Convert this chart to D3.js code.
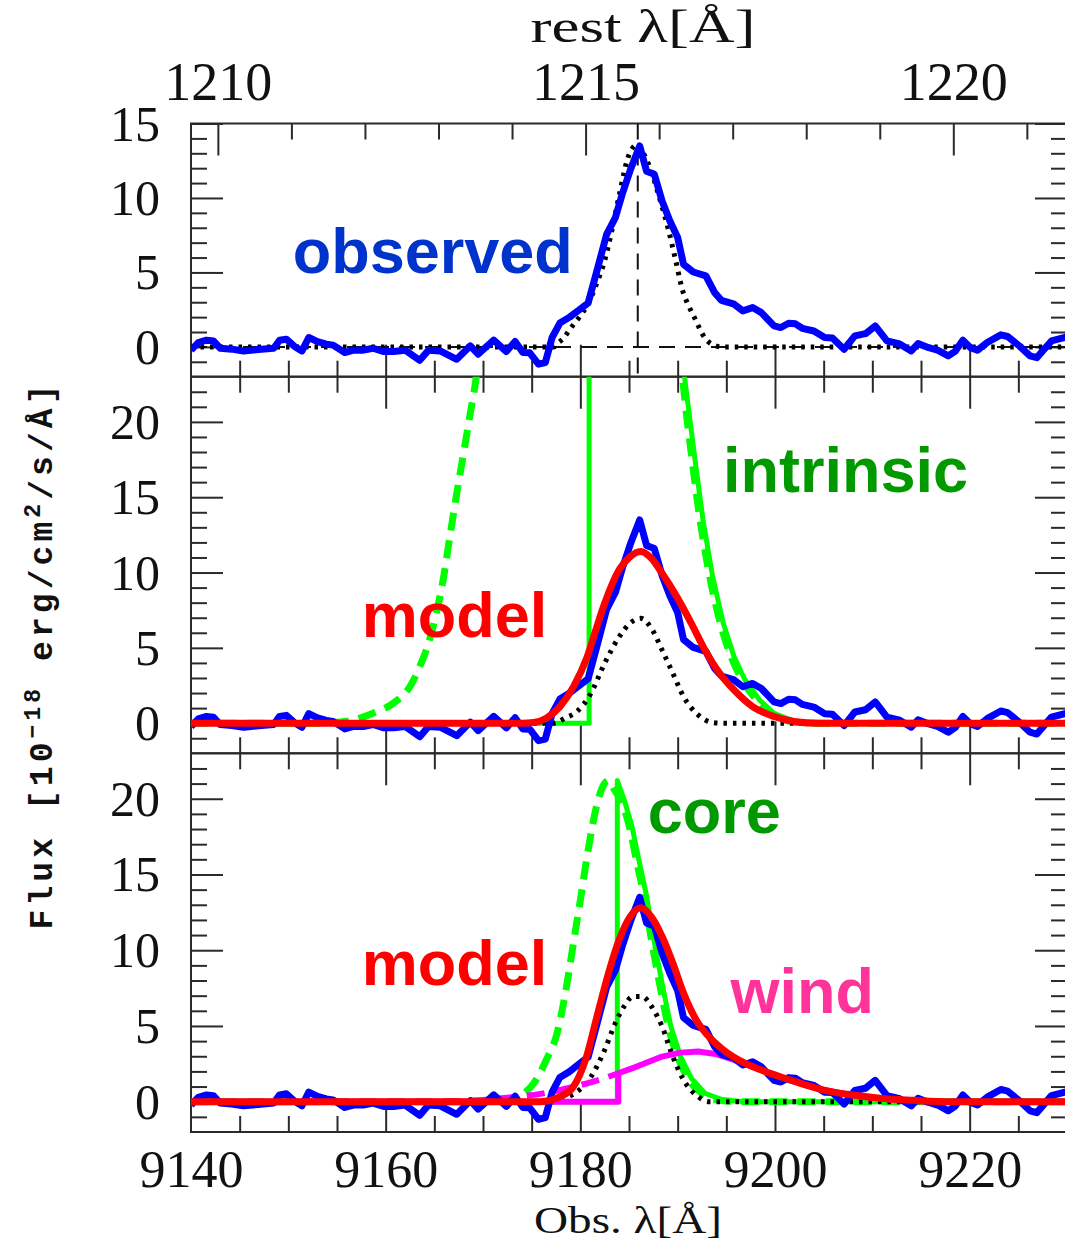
<!DOCTYPE html>
<html><head><meta charset="utf-8">
<script src="https://cdn.jsdelivr.net/npm/d3@7"></script>
<style>html,body{margin:0;padding:0;background:#fff}svg{display:block}</style>
</head><body>
<svg id="chart" width="1065" height="1242"></svg>
<script>
// ---------------- DATA ----------------
// observed spectrum [obs wavelength (Å), flux]
const observed = [
 [9140.0,-0.22],[9140.75,0.29],[9141.6,0.45],[9142.3,0.40],[9143.0,-0.09],[9144.2,-0.15],[9145.4,-0.27],
 [9146.9,-0.18],[9148.5,-0.09],[9149.1,0.45],[9149.8,0.52],[9150.6,0.05],[9151.4,-0.27],[9152.1,0.63],
 [9153.0,0.35],[9153.9,0.18],[9154.6,0.12],[9155.8,-0.38],[9156.7,-0.22],[9157.7,-0.22],[9158.7,-0.09],
 [9159.8,-0.31],[9160.8,-0.31],[9162.0,-0.22],[9163.5,-0.90],[9164.4,-0.22],[9165.6,-0.27],[9167.3,-0.83],
 [9168.7,0.07],[9169.5,-0.49],[9171.1,0.45],[9172.4,-0.31],[9173.3,0.36],[9174.1,-0.38],[9174.8,-0.40],
 [9175.7,-1.16],[9176.4,-1.05],[9177.1,0.63],[9177.9,1.60],[9178.9,2.00],[9179.8,2.45],[9180.8,2.95],
 [9181.7,5.10],[9182.7,7.56],[9183.6,8.68],[9184.3,10.25],[9185.2,12.0],[9186.1,13.49],[9186.8,11.8],
 [9187.6,11.59],[9188.4,9.80],[9189.2,8.46],[9190.0,7.34],[9190.6,5.55],[9191.6,5.03],[9192.9,4.77],
 [9193.8,3.64],[9194.5,3.13],[9195.8,2.87],[9196.7,2.42],[9197.7,2.64],[9198.6,2.30],[9199.9,1.41],
 [9200.6,1.30],[9201.4,1.59],[9202.1,1.55],[9202.8,1.25],[9204.0,1.07],[9205.1,0.63],[9205.9,0.60],
 [9207.1,-0.16],[9208.2,0.74],[9209.3,0.89],[9210.3,1.41],[9211.5,0.40],[9212.8,0.20],[9214.0,-0.27],
 [9214.7,0.22],[9215.8,-0.05],[9216.7,-0.22],[9217.8,-0.60],[9218.5,-0.30],[9219.3,0.45],[9220.1,-0.05],
 [9220.8,-0.22],[9221.8,0.30],[9223.2,0.81],[9223.9,0.70],[9225.1,0.07],[9226.2,-0.60],[9226.9,-0.72],
 [9228.4,0.40],[9230.0,0.67]
];
// panel 1: dotted profile
const p1Dotted = [
 [9140,0],[9177.3,0],[9177.6,0.2],[9178.3,0.6],[9179.0,1.25],[9179.9,2.0],[9180.8,2.9],[9181.7,4.3],
 [9182.5,5.8],[9183.3,8.0],[9184.0,10.2],[9185.0,12.9],[9185.9,13.6],[9186.7,12.7],[9187.3,11.8],
 [9187.9,10.5],[9189.0,8.0],[9189.8,5.8],[9190.5,3.8],[9191.1,2.8],[9191.7,2.0],[9192.8,0.6],
 [9193.9,0.07],[9194.5,0],[9230,0]
];
const lyaObs = 9185.9;
// panel 2
const p2IntrinsicDashed = [
 [9140,0],[9152,0],[9154.6,0.04],[9156.7,0.22],[9158.7,0.66],[9160.8,1.33],[9162.5,2.43],[9163.5,3.75],
 [9164.4,5.3],[9165.2,7.3],[9165.9,9.5],[9166.6,12.4],[9167.3,15.25],[9168.0,17.9],[9168.7,20.6],
 [9169.2,22.5],[9169.7,25],[9170.2,27],[9190.0,27],[9190.3,24.5],[9190.5,23],[9191.4,17.9],[9192.3,13.5],
 [9193.3,9.7],[9194.4,6.6],[9195.5,4.4],[9196.6,2.9],[9198.1,1.55],[9199.6,0.66],[9201.8,0.1],[9204,0],[9230,0]
];
const p2IntrinsicSolid = [
 [9140,0],[9180.9,0],[9180.9,27],[9190.3,27],[9190.7,23],[9191.7,17.9],[9192.6,13.5],[9193.6,9.7],
 [9194.7,6.6],[9195.8,4.4],[9196.9,2.9],[9198.4,1.55],[9199.9,0.66],[9202.1,0.1],[9204.5,0],[9230,0]
];
const p2Dotted = [
 [9140,0],[9177.3,0],[9178.4,0.33],[9179.7,0.8],[9181.0,1.88],[9182.5,3.98],[9184.0,5.74],[9185.1,6.63],
 [9186.2,6.96],[9187.3,6.3],[9188.4,4.86],[9189.5,3.32],[9190.6,1.77],[9192.1,0.55],[9193.6,0.04],
 [9194.5,0],[9230,0]
];
const p2Model = [
 [9140,0],[9174,0],[9175.2,0.04],[9176.5,0.33],[9177.9,1.1],[9179.3,2.43],[9180.7,4.4],[9181.6,6.2],
 [9182.5,7.96],[9184.0,10.2],[9185.1,11.05],[9186.2,11.4],[9187.3,10.95],[9188.4,9.95],[9189.9,8.4],
 [9191.4,6.63],[9192.8,4.86],[9194.3,3.32],[9195.8,2.2],[9197.7,1.1],[9199.9,0.44],[9202.1,0.1],
 [9204.5,0],[9230,0]
];
// panel 3
const p3CoreDashed = [
 [9140,0],[9171,0],[9173.5,0.33],[9175.2,1.2],[9176.5,2.76],[9177.6,4.5],[9178.4,6.94],[9179.3,10.5],
 [9180.0,13.3],[9180.8,16.6],[9181.7,19.6],[9182.3,20.8],[9182.9,21.2],[9183.5,20.6],[9184.3,19.7],
 [9185.1,18.0],[9185.8,15.8],[9186.6,13.4],[9187.3,10.7],[9188.2,7.6],[9189.1,4.8],[9190.1,2.8],
 [9191.2,1.4],[9192.6,0.5],[9194.5,0.08],[9197,0],[9230,0]
];
const p3CoreSolid = [
 [9140,0],[9183.8,0],[9183.8,21.2],[9184.5,19.95],[9185.3,18.2],[9186.0,16.0],[9186.8,13.6],[9187.5,10.9],
 [9188.4,7.8],[9189.3,4.96],[9190.3,2.98],[9191.4,1.55],[9192.8,0.56],[9194.7,0.11],[9197,0],[9230,0]
];
const p3WindDashed = [
 [9140,0],[9165,0.02],[9170,0.12],[9173,0.3],[9176.2,0.55],[9180.6,1.2],[9182.1,1.48],[9183.9,1.88]
];
const p3WindSolid = [
 [9140,0],[9183.9,0],[9183.9,1.88],[9185.8,2.32],[9188.4,2.98],[9190.3,3.24],[9192.1,3.31],[9193.9,3.15],
 [9195.8,2.76],[9197.7,2.32],[9199.5,1.88],[9201.4,1.44],[9203.2,1.1],[9205,0.77],[9206.9,0.55],
 [9208.8,0.33],[9212.5,0.11],[9216,0],[9230,0]
];
const p3Dotted = [
 [9140,0],[9177.3,0],[9178.8,0.33],[9181.0,1.55],[9182.5,3.42],[9183.6,5.2],[9184.5,6.3],[9185.4,6.94],
 [9186.4,6.94],[9187.3,6.3],[9188.4,4.96],[9189.5,2.98],[9190.6,1.44],[9192.1,0.33],[9193.2,0],[9230,0]
];
const p3Model = [
 [9140,0],[9175.9,0],[9177.9,0.33],[9179.3,1.0],[9180.6,2.9],[9181.7,5.6],[9182.9,8.5],[9184.0,10.7],
 [9185.1,12.2],[9186.2,12.8],[9187.3,12.2],[9188.4,10.9],[9189.5,9.15],[9190.6,7.17],[9191.9,5.4],
 [9193.2,4.3],[9194.7,3.42],[9196.9,2.54],[9199.5,1.88],[9202.1,1.32],[9205,0.77],[9208,0.44],
 [9211,0.22],[9214.3,0.09],[9218,0],[9230,0]
];
// axes
const obsDomain = [9140, 9230];
const onePlusZ = 7.556;
const obsLabelTicks = [9140, 9160, 9180, 9200, 9220];
const obsMinorTicks = [9145,9150,9155,9165,9170,9175,9185,9190,9195,9205,9210,9215,9225];
const obsMajorTicks = [9160, 9180, 9200, 9220];
const restMajorTicks = [1210, 1215, 1220];
const restMinorTicks = [1211,1212,1213,1214,1216,1217,1218,1219,1221];
const panelYDomains = [[-2,15],[-2,23],[-2,23]];
const labels = [
 {panel:0, text:"observed", color:"#0033cc", w:9150.45, v:4.94},
 {panel:1, text:"intrinsic", color:"#009900", w:9194.66, v:15.37},
 {panel:1, text:"model", color:"#ff0000", w:9157.54, v:5.74},
 {panel:2, text:"core", color:"#009900", w:9186.92, v:17.76},
 {panel:2, text:"model", color:"#ff0000", w:9157.54, v:7.70},
 {panel:2, text:"wind", color:"#ff3399", w:9195.44, v:5.84}
];

// ---------------- CHART ----------------
const svg = d3.select("#chart");
const X0 = 191, X1 = 1067;
const x = d3.scaleLinear().domain(obsDomain).range([X0, X1]);
const xRest = d3.scaleLinear().domain([obsDomain[0]/onePlusZ, obsDomain[1]/onePlusZ]).range([X0, X1]);
const frames = [[123.5,376.7],[376.7,753.3],[753.3,1132]];
const axisColor = "#2a2a2a";
const serif = "'Liberation Serif','DejaVu Serif',serif";
const sans = "'Liberation Sans',Arial,sans-serif";

const panels = frames.map((f,i) => {
  const y = d3.scaleLinear().domain(panelYDomains[i]).range([f[1], f[0]]);
  return {top:f[0], bottom:f[1], y, i};
});

const defs = svg.append("defs");
panels.forEach(p => {
  defs.append("clipPath").attr("id","clip"+p.i).append("rect")
    .attr("x",X0).attr("y",p.top).attr("width",X1-X0).attr("height",p.bottom-p.top);
});

function styleAxis(g, showText){
  g.select(".domain").remove();
  g.selectAll(".tick line").attr("stroke", axisColor).attr("stroke-width", 2);
  if(!showText) g.selectAll(".tick text").remove();
}

function drawLine(p, data, opts){
  const gen = d3.line().x(d=>x(d[0])).y(d=>p.y(d[1])).curve(opts.curve || d3.curveLinear);
  return svg.append("path").datum(data)
    .attr("clip-path","url(#clip"+p.i+")")
    .attr("d", gen).attr("fill","none")
    .attr("stroke", opts.color).attr("stroke-width", opts.width)
    .attr("stroke-dasharray", opts.dash || null)
    .attr("stroke-linejoin","round")
    .attr("stroke-linecap", opts.cap || "butt");
}

// axes for each panel
panels.forEach(p => {
  const yMax = p.y.domain()[1], yMin = p.y.domain()[0];
  const yMajor = d3.range(0, yMax + 0.01, 5);
  const yMinor = d3.range(yMin + 1, yMax, 1).filter(v => v % 5 !== 0);
  // left
  svg.append("g").attr("transform",`translate(${X0},0)`)
    .call(d3.axisLeft(p.y).tickValues(yMinor).tickSize(-16).tickFormat(""))
    .call(g=>styleAxis(g,false));
  svg.append("g").attr("transform",`translate(${X0},0)`)
    .call(d3.axisLeft(p.y).tickValues(yMajor).tickSize(-32).tickPadding(31).tickFormat(d3.format("d")))
    .call(g=>{styleAxis(g,true); g.selectAll(".tick text").attr("font-family",serif).attr("font-size",50).attr("fill","#111").attr("dy","0.33em");});
  // right
  svg.append("g").attr("transform",`translate(${X1},0)`)
    .call(d3.axisRight(p.y).tickValues(yMinor).tickSize(-16).tickFormat(""))
    .call(g=>styleAxis(g,false));
  svg.append("g").attr("transform",`translate(${X1},0)`)
    .call(d3.axisRight(p.y).tickValues(yMajor).tickSize(-32).tickFormat(""))
    .call(g=>styleAxis(g,false));
  // bottom edge (obs) ticks pointing up
  svg.append("g").attr("transform",`translate(0,${p.bottom})`)
    .call(d3.axisBottom(x).tickValues(obsMinorTicks).tickSize(-16).tickFormat(""))
    .call(g=>styleAxis(g,false));
  svg.append("g").attr("transform",`translate(0,${p.bottom})`)
    .call(d3.axisBottom(x).tickValues(obsMajorTicks).tickSize(-32).tickFormat(""))
    .call(g=>styleAxis(g,false));
  if(p.i === 0){
    svg.append("g").attr("transform",`translate(0,${p.top})`)
      .call(d3.axisTop(xRest).tickValues(restMinorTicks).tickSize(-16).tickFormat(""))
      .call(g=>styleAxis(g,false));
    svg.append("g").attr("transform",`translate(0,${p.top})`)
      .call(d3.axisTop(xRest).tickValues(restMajorTicks).tickSize(-32).tickPadding(23.5).tickFormat(d3.format("d")))
      .call(g=>{styleAxis(g,true); g.selectAll(".tick text").attr("font-family",serif).attr("font-size",54).attr("fill","#111");});
  } else {
    svg.append("g").attr("transform",`translate(0,${p.top})`)
      .call(d3.axisTop(x).tickValues(obsMinorTicks).tickSize(-16).tickFormat(""))
      .call(g=>styleAxis(g,false));
    svg.append("g").attr("transform",`translate(0,${p.top})`)
      .call(d3.axisTop(x).tickValues(obsMajorTicks).tickSize(-32).tickFormat(""))
      .call(g=>styleAxis(g,false));
  }
  if(p.i === 2){
    svg.append("g").attr("transform",`translate(0,${p.bottom})`)
      .call(d3.axisBottom(x).tickValues(obsLabelTicks).tickSize(0).tickPadding(18.1).tickFormat(d3.format("d")))
      .call(g=>{styleAxis(g,true); g.selectAll(".tick text").attr("font-family",serif).attr("font-size",52).attr("fill","#111");});
  }
  // frame
  svg.append("rect").attr("x",X0).attr("y",p.top).attr("width",X1-X0).attr("height",p.bottom-p.top)
    .attr("fill","none").attr("stroke",axisColor).attr("stroke-width",2);
});

// ---- panel 1
{
  const p = panels[0];
  svg.append("line").attr("clip-path","url(#clip0)")
    .attr("x1",X0).attr("x2",X1).attr("y1",p.y(0)).attr("y2",p.y(0))
    .attr("stroke","#111").attr("stroke-width",2).attr("stroke-dasharray","16,10");
  svg.append("line").attr("clip-path","url(#clip0)")
    .attr("x1",x(lyaObs)).attr("x2",x(lyaObs)).attr("y1",p.top).attr("y2",p.bottom)
    .attr("stroke","#111").attr("stroke-width",2).attr("stroke-dasharray","16,10");
  drawLine(p, p1Dotted, {color:"#000", width:5, dash:"3.5,6", curve:d3.curveMonotoneX});
  drawLine(p, observed, {color:"#0000ff", width:7});
}
// ---- panel 2
{
  const p = panels[1];
  drawLine(p, p2IntrinsicDashed, {color:"#00ff00", width:7, dash:"18,10", curve:d3.curveMonotoneX});
  drawLine(p, p2IntrinsicSolid, {color:"#00ff00", width:5});
  drawLine(p, p2Dotted, {color:"#000", width:5, dash:"3.5,6", curve:d3.curveMonotoneX});
  drawLine(p, observed, {color:"#0000ff", width:7});
  drawLine(p, p2Model, {color:"#ff0000", width:7, curve:d3.curveMonotoneX});
}
// ---- panel 3
{
  const p = panels[2];
  drawLine(p, p3CoreDashed, {color:"#00ff00", width:7, dash:"18,10", curve:d3.curveMonotoneX});
  drawLine(p, p3CoreSolid, {color:"#00ff00", width:5});
  drawLine(p, p3Dotted, {color:"#000", width:5, dash:"3.5,6", curve:d3.curveMonotoneX});
  drawLine(p, p3WindDashed, {color:"#ff00ff", width:6, dash:"18,10", curve:d3.curveMonotoneX});
  drawLine(p, p3WindSolid, {color:"#ff00ff", width:6});
  drawLine(p, observed, {color:"#0000ff", width:7});
  drawLine(p, p3Model, {color:"#ff0000", width:7, curve:d3.curveMonotoneX});
}

// in-plot labels
labels.forEach(l => {
  const p = panels[l.panel];
  svg.append("text").attr("x", x(l.w)).attr("y", p.y(l.v))
    .attr("font-family", sans).attr("font-weight","bold").attr("font-size",63)
    .attr("fill", l.color).text(l.text);
});

// axis titles
svg.append("text").attr("x",643).attr("y",42).attr("text-anchor","middle")
  .attr("font-family",serif).attr("font-size",46).attr("fill","#111")
  .attr("textLength",225).attr("lengthAdjust","spacingAndGlyphs").text("rest λ[Å]");
svg.append("text").attr("x",628).attr("y",1233).attr("text-anchor","middle")
  .attr("font-family",serif).attr("font-size",38).attr("fill","#111")
  .attr("textLength",188).attr("lengthAdjust","spacingAndGlyphs").text("Obs. λ[Å]");

const yt = svg.append("text").attr("transform","translate(52,657) rotate(-90)")
  .attr("text-anchor","middle").attr("font-family","'Liberation Mono','DejaVu Sans Mono',monospace")
  .attr("font-weight","bold").attr("font-size",33).attr("fill","#111")
  .attr("textLength",545).attr("lengthAdjust","spacing");
yt.append("tspan").text("Flux [10");
yt.append("tspan").attr("dy",-12).attr("font-size",23).text("−18");
yt.append("tspan").attr("dy",12).text(" erg/cm");
yt.append("tspan").attr("dy",-12).attr("font-size",23).text("2");
yt.append("tspan").attr("dy",12).text("/s/Å]");
</script>
</body></html>
